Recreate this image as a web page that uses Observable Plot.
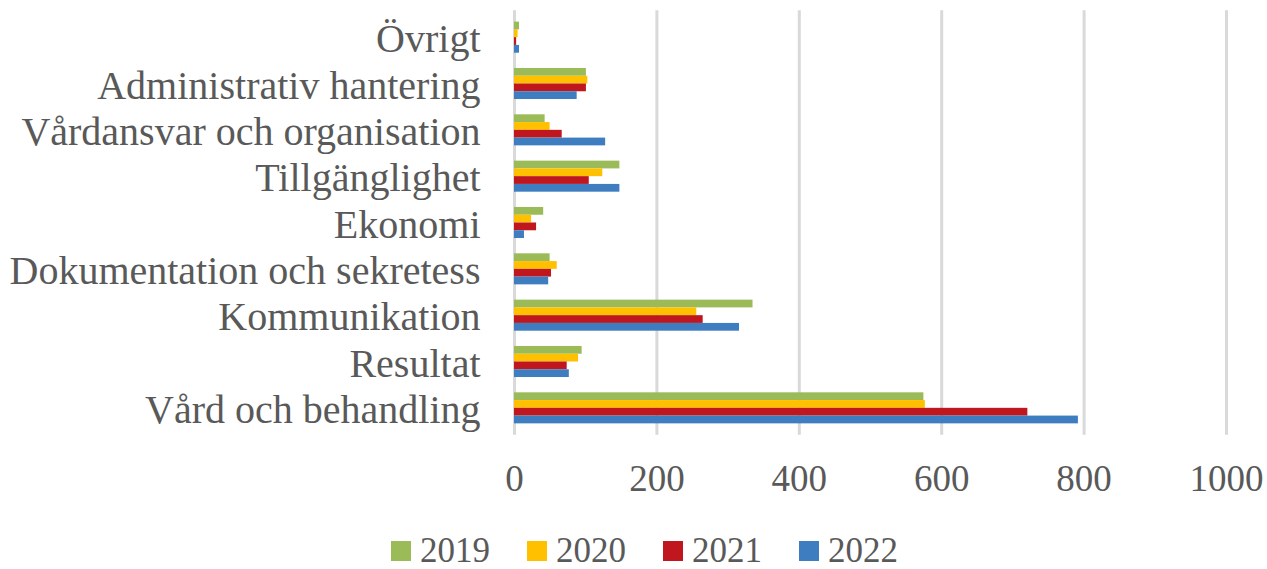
<!DOCTYPE html>
<html>
<head>
<meta charset="utf-8">
<script src="https://cdn.jsdelivr.net/npm/d3@7"></script>
<script src="https://cdn.jsdelivr.net/npm/@observablehq/plot@0.6"></script>
<style>
  html, body { margin: 0; padding: 0; background: #fff; overflow: hidden; }
  #chart svg { display: block; }
  .legend { display: flex; align-items: center; height: 34px; margin-top: 19px; padding-left: 391px;
    font-family: "Liberation Serif", "Times New Roman", serif; font-size: 35px; line-height: 34px; color: #595959; }
  .legend .item { display: flex; align-items: center; margin-right: 37px; }
  .legend .sw { width: 20px; height: 20px; margin-right: 9px; }
</style>
</head>
<body>
<div id="chart"></div>
<div class="legend" id="legend"></div>
<script>
const categories = [
  "Övrigt",
  "Administrativ hantering",
  "Vårdansvar och organisation",
  "Tillgänglighet",
  "Ekonomi",
  "Dokumentation och sekretess",
  "Kommunikation",
  "Resultat",
  "Vård och behandling"
];
const years = ["2019", "2020", "2021", "2022"];
const colors = ["#9bbb59", "#ffc000", "#c0161e", "#3d7dc0"];
const v2019 = [7, 101, 43, 148, 41, 50, 335, 95, 575];
const v2020 = [5, 103, 50, 124, 24, 60, 256, 90, 577];
const v2021 = [3, 101, 67, 105, 31, 52, 265, 74, 721];
const v2022 = [7, 88, 128, 148, 14, 48, 316, 77, 792];
const xTicks = [0, 200, 400, 600, 800, 1000];

const series = [v2019, v2020, v2021, v2022];
const groupFrac = 0.67;
const barFrac = groupFrac / years.length;
const rows = [];
categories.forEach((c, i) => {
  years.forEach((yr, j) => {
    const y1 = i - groupFrac / 2 + j * barFrac;
    rows.push({category: c, year: yr, value: series[j][i], y1, y2: y1 + barFrac});
  });
});

const chart = Plot.plot({
  width: 1267,
  height: 515,
  marginLeft: 514,
  marginRight: 41,
  marginTop: 14,
  marginBottom: 84,
  style: {fontFamily: "'Liberation Serif', 'Times New Roman', serif", background: "#fff"},
  x: {domain: [0, 1000], ticks: xTicks, tickFormat: d => String(d), tickSize: 0, tickPadding: 33, label: null},
  y: {domain: [-0.5, categories.length - 0.5], reverse: true, ticks: d3.range(categories.length),
      tickFormat: i => categories[i], tickSize: 0, tickPadding: 34, label: null},
  color: {domain: years, range: colors},
  marks: [
    Plot.ruleX(xTicks, {stroke: "#d9d9d9", strokeWidth: 3, y1: -0.58, y2: categories.length - 0.42}),
    Plot.rectX(rows, {x1: 0, x2: "value", y1: "y1", y2: "y2", fill: "year"})
  ]
});
const xg = chart.querySelector("g[aria-label='x-axis tick label']");
if (xg) { xg.setAttribute("font-size", "37"); xg.setAttribute("fill", "#595959"); }
const yg = chart.querySelector("g[aria-label='y-axis tick label']");
if (yg) {
  yg.setAttribute("font-size", "40");
  yg.setAttribute("fill", "#595959");
  const t = yg.getAttribute("transform") || "";
  yg.setAttribute("transform", (t + " translate(0,2)").trim());
}
document.getElementById("chart").appendChild(chart);

const leg = document.getElementById("legend");
years.forEach((yr, j) => {
  const it = document.createElement("div");
  it.className = "item";
  it.innerHTML = `<div class="sw" style="background:${colors[j]}"></div><span>${yr}</span>`;
  leg.appendChild(it);
});
</script>
</body>
</html>
